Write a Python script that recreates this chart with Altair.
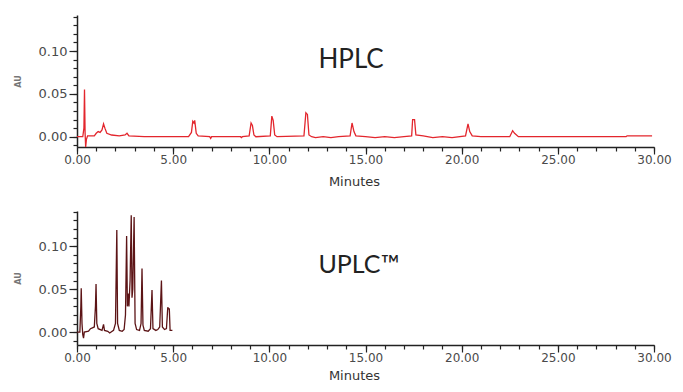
import altair as alt
import pandas as pd

# ---- HPLC trace (minutes, AU) ----
hplc_t = [0.0, 0.30, 0.36, 0.39, 0.42, 0.45, 0.49, 0.55, 0.9, 1.0, 1.1, 1.2, 1.3, 1.38, 1.45, 1.55,
          1.8, 2.2, 2.5, 2.6, 2.7, 3.5, 5.8, 5.95, 6.02, 6.08, 6.12, 6.2, 6.3, 6.9, 6.95, 7.0,
          8.5, 8.55, 8.6, 8.95, 9.05, 9.12, 9.2, 9.3, 10.05, 10.13, 10.2, 10.28, 10.4,
          11.8, 11.9, 11.98, 12.06, 12.2, 12.4, 12.8, 13.2, 13.6, 14.2, 14.3, 14.4, 14.5,
          15.0, 15.5, 16.0, 16.5, 17.0, 17.4, 17.45, 17.55, 17.62, 18.0, 18.5, 19.0, 19.5,
          20.2, 20.33, 20.42, 20.55, 21.0, 22.5, 22.65, 22.75, 22.95, 25.0, 28.55, 28.6, 29.9]
hplc_au = [0.000, 0.000, 0.010, 0.055, 0.005, -0.012, -0.003, 0.001, 0.001, 0.004, 0.006, 0.005, 0.008, 0.015, 0.010, 0.004,
           0.002, 0.001, 0.002, 0.004, 0.001, 0.000, 0.000, 0.005, 0.018, 0.016, 0.019, 0.004, 0.001, 0.000, -0.002, 0.000,
           0.000, -0.001, 0.000, 0.001, 0.016, 0.013, 0.002, 0.000, 0.001, 0.024, 0.019, 0.002, 0.000,
           0.001, 0.028, 0.026, 0.002, 0.000, -0.001, 0.000, -0.001, 0.000, 0.001, 0.016, 0.006, 0.001,
           0.000, -0.001, 0.000, -0.001, 0.000, 0.001, 0.020, 0.020, 0.002, 0.001, -0.001, 0.000, -0.001,
           0.001, 0.015, 0.006, 0.001, 0.000, 0.000, 0.007, 0.004, 0.000, 0.000, 0.000, 0.001, 0.001]

# ---- UPLC trace (minutes, AU) ----
uplc_t = [0.0, 0.15, 0.2, 0.22, 0.26, 0.30, 0.34, 0.38, 0.6, 0.7, 0.8, 0.9, 0.96, 0.99, 1.03, 1.1,
          1.3, 1.38, 1.43, 1.6, 1.7, 1.9, 2.0, 2.07, 2.11, 2.2, 2.35, 2.45, 2.52, 2.58, 2.62, 2.66,
          2.7, 2.76, 2.82, 2.86, 2.9, 2.97, 3.02, 3.1, 3.25, 3.33, 3.38, 3.43, 3.5, 3.7, 3.82, 3.9,
          3.95, 4.1, 4.2, 4.3, 4.39, 4.44, 4.55, 4.65, 4.72, 4.76, 4.80, 4.84, 4.96]
uplc_au = [0.000, 0.000, 0.030, 0.051, 0.010, -0.003, -0.007, 0.000, 0.001, 0.004, 0.005, 0.006, 0.030, 0.056, 0.010, 0.004,
           0.002, 0.009, 0.002, 0.001, -0.001, 0.002, 0.010, 0.119, 0.010, 0.002, 0.001, 0.003, 0.020, 0.112, 0.030, 0.045,
           0.030, 0.060, 0.136, 0.040, 0.050, 0.134, 0.010, 0.003, 0.002, 0.010, 0.074, 0.008, 0.002, 0.001, 0.004, 0.049,
           0.004, 0.002, 0.003, 0.006, 0.060, 0.006, 0.003, 0.004, 0.029, 0.027, 0.027, 0.002, 0.002]

x_major = [0, 5, 10, 15, 20, 25, 30]
x_minor = list(range(0, 31))
y_major = [0.0, 0.05, 0.10]
y_minor = [-0.01, 0.0, 0.01, 0.02, 0.03, 0.04, 0.05, 0.06, 0.07, 0.08, 0.09, 0.10, 0.11, 0.12, 0.13, 0.14]

FONT = "DejaVu Sans"
AXIS_COLOR = "#222222"
LABEL_COLOR = "#4a4a4a"
W = 577


def x_axis_major(title_pad):
    return alt.Axis(
        orient="bottom", values=x_major, format=".2f",
        labelOverlap=False, labelFlush=False, tickSize=7,
        tickColor=AXIS_COLOR, domainColor=AXIS_COLOR, tickWidth=1.2, domainWidth=1.5,
        labelFont=FONT, labelFontSize=12, labelColor=LABEL_COLOR, labelPadding=0,
        title="Minutes", titleFont=FONT, titleFontSize=13, titleFontWeight="normal",
        titleColor="#333333", titlePadding=title_pad, titleX=277, grid=False,
    )


def x_axis_minor():
    return alt.Axis(
        orient="bottom", values=x_minor, labels=False, domain=False, tickSize=4,
        tickColor=AXIS_COLOR, tickWidth=1.2, title=None, grid=False,
    )


def y_axis_major():
    return alt.Axis(
        orient="left", values=y_major, format=".2f",
        labelOverlap=False, labelFlush=False, tickSize=8,
        tickColor=AXIS_COLOR, domainColor=AXIS_COLOR, tickWidth=1.2, domainWidth=1.5,
        labelFont=FONT, labelFontSize=13, labelColor=LABEL_COLOR, labelPadding=2,
        title="AU", titleFont=FONT, titleFontSize=8, titleFontWeight="bold",
        titleColor="#777777", titlePadding=16, grid=False,
    )


def y_axis_minor():
    return alt.Axis(
        orient="left", values=y_minor, labels=False, domain=False, tickSize=4,
        tickColor=AXIS_COLOR, tickWidth=1.2, title=None, grid=False,
    )


def panel(t, au, color, ydom, height, label, lx, ly, lsize, title_pad):
    df = pd.DataFrame({"t": t, "au": au})
    xs = alt.Scale(domain=[0, 30], nice=False, zero=False)
    ys = alt.Scale(domain=ydom, nice=False, zero=False)
    line = alt.Chart(df).mark_line(color=color, strokeWidth=1.3, clip=True).encode(
        x=alt.X("t:Q", scale=xs, axis=x_axis_major(title_pad)),
        y=alt.Y("au:Q", scale=ys, axis=y_axis_major()),
    )
    tdf = pd.DataFrame({"t": [lx], "au": [ly], "label": [label]})
    txt = alt.Chart(tdf).mark_text(font="Lato", fontSize=lsize, color="#222222",
                                   baseline="alphabetic", align="center").encode(
        x=alt.X("t:Q", scale=xs, axis=x_axis_minor()),
        y=alt.Y("au:Q", scale=ys, axis=y_axis_minor()),
        text="label:N",
    )
    return alt.layer(line, txt).resolve_axis(x="independent", y="independent").properties(
        width=W, height=height)


top = panel(hplc_t, hplc_au, "#e3262d", [-0.012, 0.142], 132, "HPLC", 14.25, 0.080, 26, 10)
bottom = panel(uplc_t, uplc_au, "#5c1416", [-0.015, 0.141], 134, "UPLC\u2122", 14.66, 0.069, 25, 6)

chart = alt.vconcat(top, bottom, spacing=23).properties(
    padding={"left": 6, "top": 7, "right": 0, "bottom": 0}
).configure_view(stroke=None)

chart.save("out.html", embed_options={"renderer": "svg", "actions": False})
